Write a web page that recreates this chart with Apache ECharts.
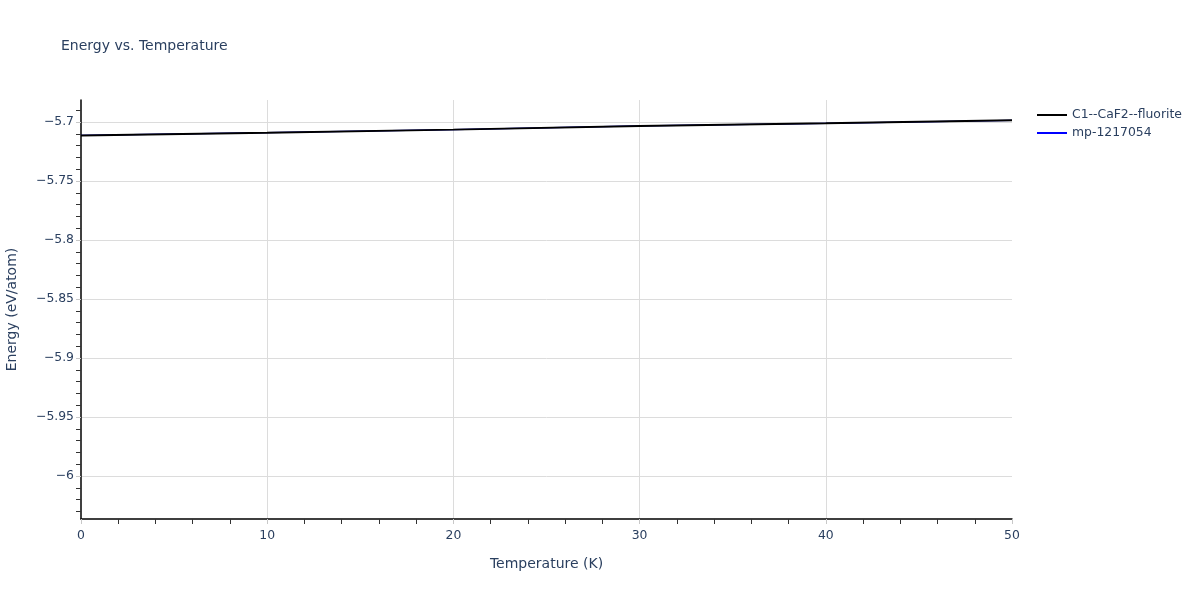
<!DOCTYPE html>
<html>
<head>
<meta charset="utf-8">
<script src="https://cdn.jsdelivr.net/npm/echarts@6/dist/echarts.min.js"></script>
<style>html,body{margin:0;padding:0;background:#fff;}#chart{width:1200px;height:600px;}</style>
</head>
<body>
<div id="chart"></div>
<script>
const temperatures = [0, 10, 20, 30, 40, 50];
const fluoriteEnergy = [-5.7114, -5.7091, -5.7065, -5.7034, -5.7012, -5.6986];
const mpEnergy = [-5.7114, -5.7091, -5.7065, -5.7034, -5.7012, -5.6986];
const seriesNames = ['C1--CaF2--fluorite', 'mp-1217054'];
const yMinorTicks = [-6.03, -6.02, -6.01, -5.99, -5.98, -5.97, -5.96, -5.94, -5.93, -5.92, -5.91,
  -5.89, -5.88, -5.87, -5.86, -5.84, -5.83, -5.82, -5.81, -5.79, -5.78, -5.77, -5.76,
  -5.74, -5.73, -5.72, -5.71, -5.69];
const xMinorTicks = [2, 4, 6, 8, 12, 14, 16, 18, 22, 24, 26, 28, 32, 34, 36, 38, 42, 44, 46, 48];

const font = '"DejaVu Sans", Verdana, sans-serif';
const txt = '#2a3f5f';
const xMin = 0, xMax = 50, yMin = -6.0364, yMax = -5.6814;
const chart = echarts.init(document.getElementById('chart'));
chart.setOption({
  animation: false,
  backgroundColor: '#fff',
  title: {
    text: 'Energy vs. Temperature', left: 56, top: 34,
    textStyle: { fontFamily: font, fontSize: 14, fontWeight: 'normal', color: txt }
  },
  legend: {
    orient: 'vertical', left: 1032, top: 104, itemWidth: 30, itemHeight: 14, itemGap: 6,
    textStyle: { fontFamily: font, fontSize: 12.4, color: txt },
    data: seriesNames.map(n => ({ name: n, icon: 'path://M0,6 L30,6 L30,8 L0,8 Z' }))
  },
  grid: { left: 81, right: 188, top: 100, bottom: 81, containLabel: false, outerBoundsMode: 'none' },
  xAxis: [{
    type: 'value', min: xMin, max: xMax, interval: 10, position: 'bottom',
    name: 'Temperature (K)', nameLocation: 'middle', nameGap: 38,
    nameTextStyle: { fontFamily: font, fontSize: 14, color: txt },
    axisLine: { show: true, onZero: false, lineStyle: { color: '#000', width: 1.5 } },
    axisTick: { show: true, length: 5, lineStyle: { color: '#c8c8c8' } },
    axisLabel: { fontFamily: font, fontSize: 12.4, color: txt, margin: 11 },
    splitLine: { show: true, showMinLine: false, showMaxLine: false, lineStyle: { color: '#dcdcdc', width: 1 } }
  }, {
    type: 'value', min: xMin, max: xMax, position: 'bottom',
    axisLine: { show: false, onZero: false },
    axisTick: { show: true, length: 5, lineStyle: { color: '#333' }, customValues: xMinorTicks },
    axisLabel: { show: false },
    splitLine: { show: false }
  }],
  yAxis: [{
    type: 'value', min: yMin, max: yMax, minInterval: 0.05, maxInterval: 0.05, position: 'left',
    name: 'Energy (eV/atom)', nameLocation: 'middle', nameGap: 62, nameRotate: 90,
    nameTextStyle: { fontFamily: font, fontSize: 14, color: txt },
    axisLine: { show: true, onZero: false, lineStyle: { color: '#000', width: 1.5 } },
    axisTick: { show: true, length: 5, lineStyle: { color: '#c8c8c8' } },
    axisLabel: {
      fontFamily: font, fontSize: 12.4, color: txt, margin: 7, showMinLabel: false, showMaxLabel: false,
      formatter: v => String(+v.toFixed(2)).replace('-', '\u2212')
    },
    splitLine: { show: true, showMinLine: false, showMaxLine: false, lineStyle: { color: '#dcdcdc', width: 1 } }
  }, {
    type: 'value', min: yMin, max: yMax, position: 'left',
    axisLine: { show: false, onZero: false },
    axisTick: { show: true, length: 5, lineStyle: { color: '#333' }, customValues: yMinorTicks },
    axisLabel: { show: false },
    splitLine: { show: false }
  }],
  series: [
    {
      name: seriesNames[1], type: 'line', showSymbol: false, symbol: 'none', z: 2,
      xAxisIndex: 0, yAxisIndex: 0,
      lineStyle: { color: '#0000ff', width: 1.2 }, itemStyle: { color: '#0000ff' },
      data: temperatures.map((t, i) => [t, mpEnergy[i]])
    },
    {
      name: seriesNames[0], type: 'line', showSymbol: false, symbol: 'none', z: 3,
      xAxisIndex: 0, yAxisIndex: 0,
      lineStyle: { color: '#000', width: 2 }, itemStyle: { color: '#000' },
      data: temperatures.map((t, i) => [t, fluoriteEnergy[i]])
    },
    {
      type: 'line', xAxisIndex: 1, yAxisIndex: 1, data: [], silent: true
    }
  ]
});
</script>
</body>
</html>
